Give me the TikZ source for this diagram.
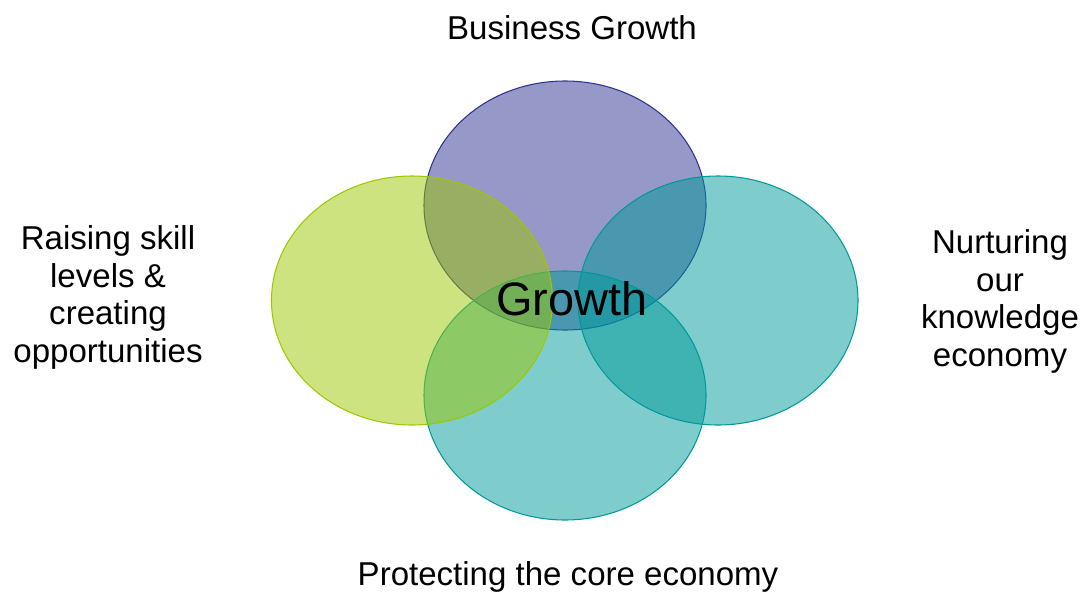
\documentclass[tikz,border=0pt]{standalone}
\usepackage{fontspec}
\setmainfont{Liberation Sans}
\definecolor{bizblue}{RGB}{46,49,146}
\definecolor{skillgreen}{RGB}{155,200,0}
\definecolor{coreteal}{RGB}{0,153,153}

\begin{document}
\begin{tikzpicture}[
  petal/.style={line width=0.6pt, fill opacity=0.5},
  pillar/.style={font=\fontsize{18.8}{21.3}\selectfont, inner sep=0pt, align=center},
  hub/.style={font=\fontsize{26.7}{30}\selectfont, inner sep=0pt}]
\useasboundingbox (0,0) rectangle (21.68,11.82);

\draw[petal, draw=bizblue, fill=bizblue] (11.30,7.71) ellipse (2.82 and 2.49);
\draw[petal, draw=coreteal, fill=coreteal] (14.36,5.81) ellipse (2.80 and 2.49);
\draw[petal, draw=coreteal, fill=coreteal] (11.30,3.91) ellipse (2.82 and 2.49);
\draw[petal, draw=skillgreen, fill=skillgreen] (8.24,5.81) ellipse (2.81 and 2.49);

\node[hub, anchor=base] (growth) at (11.44,5.52) {Growth};

\node[pillar, anchor=base] (business) at (11.44,11.04) {Business Growth};
\node[pillar, anchor=base] (core) at (11.36,0.12) {Protecting the core economy};
\node[pillar] (skills) at (2.16,5.87) {Raising skill\\levels \&\\creating\\opportunities};
\node[pillar] (knowledge) at (20.00,5.79) {Nurturing\\our\\knowledge\\economy};
\end{tikzpicture}
\end{document}
